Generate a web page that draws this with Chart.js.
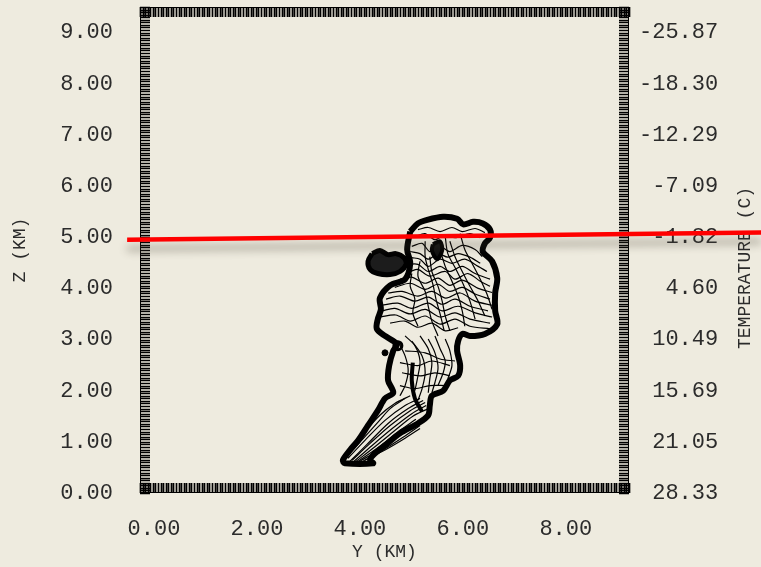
<!DOCTYPE html>
<html>
<head>
<meta charset="utf-8">
<script src="https://cdn.jsdelivr.net/npm/chart.js@4.4.1/dist/chart.umd.min.js"></script>
<style>
  html, body { margin: 0; padding: 0; background: #eeebdf; }
  canvas { display: block; }
</style>
</head>
<body>
<canvas id="chart" width="761" height="567"></canvas>
<script>
// tick labels
const yTicks = [0, 2, 4, 6, 8];
const zTicks = [0, 1, 2, 3, 4, 5, 6, 7, 8, 9];
const tempLabels = ['28.33', '21.05', '15.69', '10.49', '4.60', '-1.82', '-7.09', '-12.29', '-18.30', '-25.87'];
const axisMax = 9.5;
const minorStep = 0.05;

// red cut line, [Y km, Z km]
const cutLine = [[-0.25, 4.95], [12.07, 5.09]];

// outer edge of the cloud
const cloudEdge = [
  [5.25, 5.11], [5.40, 5.27], [5.58, 5.34], [5.89, 5.40], [6.16, 5.36], [6.28, 5.25], [6.47, 5.30],
  [6.66, 5.27], [6.80, 5.15], [6.80, 4.99], [6.70, 4.88], [6.66, 4.72], [6.84, 4.53], [6.94, 4.20],
  [6.90, 3.91], [6.90, 3.56], [6.94, 3.30], [6.70, 3.11], [6.41, 3.07], [6.26, 3.11], [6.18, 2.97],
  [6.16, 2.78], [6.22, 2.49], [6.18, 2.29], [6.02, 2.20], [5.89, 2.00], [5.67, 1.90], [5.63, 1.71],
  [5.60, 1.52], [5.40, 1.36], [5.05, 1.17], [4.76, 0.93], [4.53, 0.74], [4.47, 0.64], [4.53, 0.58],
  [3.98, 0.58], [3.94, 0.64], [4.08, 0.84], [4.24, 1.03], [4.43, 1.32], [4.62, 1.61], [4.76, 1.85],
  [4.92, 1.96], [4.82, 2.20], [4.84, 2.49], [4.92, 2.78], [4.99, 2.91], [4.76, 3.07], [4.60, 3.21],
  [4.62, 3.40], [4.68, 3.59], [4.66, 3.81], [4.86, 4.06], [5.15, 4.18], [5.25, 4.49], [5.19, 4.76],
  [5.25, 5.11]
];

// small separate cell on the left
const leftCell = [
  [4.51, 4.68], [4.66, 4.74], [4.82, 4.66], [4.97, 4.68], [5.13, 4.60], [5.17, 4.47], [5.05, 4.33],
  [4.86, 4.27], [4.62, 4.29], [4.47, 4.37], [4.43, 4.53], [4.51, 4.68]
];

const darkSpot = [[5.69, 4.86], [5.83, 4.92], [5.87, 4.74], [5.77, 4.57], [5.67, 4.74], [5.69, 4.86]];

// inner contours, upper part
const upperContours = [
  [[5.40, 5.15], [5.60, 5.19], [5.83, 5.11], [6.06, 5.19], [6.26, 5.11], [6.51, 5.17], [6.70, 5.09]],
  [[5.34, 5.01], [5.54, 5.07], [5.73, 4.95], [5.93, 5.05], [6.12, 4.99], [6.41, 5.07], [6.61, 4.99]],
  [[5.28, 4.82], [5.48, 4.88], [5.63, 4.72], [5.83, 4.82], [6.02, 4.72], [6.26, 4.84], [6.51, 4.76], [6.65, 4.62]],
  [[5.25, 4.72], [5.44, 4.68], [5.60, 4.57], [5.79, 4.68], [5.98, 4.61], [6.18, 4.68], [6.41, 4.61], [6.61, 4.49]],
  [[5.28, 4.60], [5.44, 4.57], [5.60, 4.43], [5.83, 4.57], [6.06, 4.49], [6.31, 4.57], [6.57, 4.43], [6.74, 4.33]],
  [[5.21, 4.47], [5.40, 4.47], [5.60, 4.33], [5.83, 4.43], [6.02, 4.33], [6.26, 4.43], [6.51, 4.29], [6.80, 4.18]],
  [[5.25, 4.33], [5.40, 4.37], [5.63, 4.24], [5.93, 4.33], [6.12, 4.18], [6.37, 4.29], [6.61, 4.14], [6.80, 4.04]],
  [[5.05, 4.18], [5.28, 4.22], [5.54, 4.10], [5.79, 4.20], [6.02, 4.06], [6.26, 4.16], [6.57, 4.00], [6.84, 3.92]],
  [[4.95, 4.02], [5.25, 4.10], [5.54, 3.98], [5.79, 4.08], [6.02, 3.94], [6.26, 4.02], [6.51, 3.89], [6.80, 3.79]],
  [[4.82, 3.91], [5.09, 3.94], [5.40, 3.85], [5.67, 3.94], [5.94, 3.81], [6.22, 3.91], [6.51, 3.75], [6.84, 3.67]],
  [[4.78, 3.79], [5.05, 3.85], [5.34, 3.75], [5.60, 3.83], [5.87, 3.69], [6.12, 3.79], [6.41, 3.65], [6.76, 3.56]],
  [[4.70, 3.67], [5.01, 3.71], [5.28, 3.61], [5.60, 3.71], [5.87, 3.56], [6.18, 3.65], [6.51, 3.52], [6.84, 3.44]],
  [[4.70, 3.56], [4.95, 3.61], [5.25, 3.50], [5.54, 3.59], [5.83, 3.44], [6.12, 3.52], [6.41, 3.40], [6.80, 3.32]],
  [[4.66, 3.44], [4.97, 3.48], [5.25, 3.36], [5.54, 3.46], [5.83, 3.30], [6.12, 3.40], [6.41, 3.26], [6.80, 3.21]],
  [[4.86, 3.32], [5.15, 3.36], [5.40, 3.24], [5.67, 3.32], [5.93, 3.17], [6.18, 3.23]],
  [[6.22, 5.07], [6.31, 4.76], [6.45, 4.49], [6.61, 4.18], [6.74, 3.89], [6.84, 3.59]],
  [[6.02, 4.92], [6.12, 4.62], [6.26, 4.33], [6.41, 4.04], [6.57, 3.75], [6.70, 3.46]],
  [[5.93, 5.01], [5.98, 4.68], [6.14, 4.37], [6.28, 4.08], [6.41, 3.75], [6.51, 3.40]],
  [[5.83, 4.76], [5.93, 4.43], [6.06, 4.14], [6.18, 3.85], [6.26, 3.56], [6.31, 3.26]],
  [[5.63, 4.62], [5.67, 4.33], [5.79, 4.04], [5.87, 3.75], [5.93, 3.46], [6.02, 3.17]],
  [[5.54, 4.92], [5.54, 4.62], [5.60, 4.37], [5.69, 4.08], [5.75, 3.79], [5.83, 3.50], [5.91, 3.17]],
  [[5.44, 4.53], [5.40, 4.24], [5.54, 3.94], [5.60, 3.65], [5.67, 3.36], [5.79, 3.07]],
  [[5.28, 4.29], [5.25, 4.04], [5.34, 3.79], [5.30, 3.52], [5.40, 3.26]]
];

// inner contours, stem
const stemContours = [
  [[5.01, 2.97], [5.15, 2.68], [5.21, 2.39], [5.15, 2.10], [5.05, 1.90]],
  [[5.15, 3.07], [5.34, 2.88], [5.44, 2.58], [5.40, 2.29], [5.34, 2.00]],
  [[5.28, 2.97], [5.48, 2.68], [5.54, 2.35], [5.48, 2.04], [5.40, 1.81]],
  [[5.44, 3.07], [5.60, 2.82], [5.67, 2.55], [5.63, 2.23], [5.60, 1.96]],
  [[5.60, 3.01], [5.73, 2.74], [5.79, 2.45], [5.73, 2.16], [5.67, 1.96]],
  [[5.73, 3.07], [5.83, 2.82], [5.93, 2.58], [5.89, 2.35], [5.79, 2.10]],
  [[5.93, 3.01], [6.02, 2.78], [6.06, 2.49], [5.98, 2.23]],
  [[5.15, 2.78], [5.54, 2.74], [5.83, 2.62], [6.12, 2.58]],
  [[5.05, 2.55], [5.40, 2.49], [5.67, 2.58], [6.02, 2.49]],
  [[5.09, 2.35], [5.44, 2.29], [5.73, 2.35], [6.02, 2.29]],
  [[5.05, 2.10], [5.34, 2.04], [5.63, 2.10], [5.93, 2.10]]
];
const stemStreak = [[5.30, 2.55], [5.28, 2.20], [5.34, 1.85], [5.48, 1.59]];

// inner contours, lower cone
const coneContours = [
  [[3.96, 0.64], [4.27, 0.99], [4.62, 1.38], [4.86, 1.65], [5.15, 1.85]],
  [[4.00, 0.74], [4.31, 1.13], [4.66, 1.52], [4.95, 1.75], [5.25, 1.90]],
  [[4.04, 0.68], [4.37, 1.03], [4.76, 1.42], [5.15, 1.71], [5.44, 1.85]],
  [[4.08, 0.62], [4.41, 0.95], [4.82, 1.36], [5.21, 1.65], [5.50, 1.81]],
  [[4.12, 0.64], [4.47, 0.97], [4.86, 1.32], [5.25, 1.61], [5.54, 1.77]],
  [[4.16, 0.62], [4.51, 0.93], [4.90, 1.26], [5.28, 1.55], [5.56, 1.71]],
  [[4.20, 0.62], [4.57, 0.91], [4.95, 1.22], [5.30, 1.50], [5.60, 1.65]],
  [[4.24, 0.62], [4.60, 0.87], [5.01, 1.19], [5.36, 1.44]],
  [[4.27, 0.62], [4.66, 0.85], [5.05, 1.13], [5.40, 1.38]],
  [[4.33, 0.62], [4.72, 0.84], [5.11, 1.09], [5.44, 1.32]],
  [[4.37, 0.64], [4.76, 0.84], [5.15, 1.07], [5.44, 1.26]]
];

const specks = [[4.76, 2.74]];
const rings = [[5.01, 2.88]];

const ink = '#2b2b2b';
const fontName = 'Liberation Mono';
const monoFont = { family: fontName, size: 22 };
const titleFont = { family: fontName, size: 18 };

function curve(points, width, extra) {
  return Object.assign({
    data: points.map(p => ({ x: p[0], y: p[1] })),
    showLine: true,
    borderColor: '#000',
    borderWidth: width,
    pointRadius: 0,
    tension: 0.3,
    fill: false
  }, extra || {});
}

const datasets = [
  curve(cutLine, 4.5, { borderColor: '#ff0000', tension: 0, clip: false }),
  curve(cloudEdge, 6),
  curve(leftCell, 5, { fill: 'shape', backgroundColor: '#1c1c1c' }),
  curve(darkSpot, 4, { fill: 'shape', backgroundColor: '#111' }),
  curve(stemStreak, 4),
  ...upperContours.map(c => curve(c, 1.2)),
  ...stemContours.map(c => curve(c, 1.2)),
  ...coneContours.map(c => curve(c, 1.2)),
  { data: specks.map(p => ({ x: p[0], y: p[1] })), pointRadius: 3, backgroundColor: '#000', borderColor: '#000' },
  { data: rings.map(p => ({ x: p[0], y: p[1] })), pointRadius: 4, borderWidth: 3, backgroundColor: 'rgba(0,0,0,0)', borderColor: '#000' }
];

// dense inward ticks round the frame, plus the right axis title
const frameTicks = {
  id: 'frameTicks',
  beforeDatasetsDraw(chart) {
    const { ctx, chartArea: a, scales: { x, y } } = chart;
    const len = 10;
    const n = Math.round(axisMax / minorStep);
    ctx.save();
    ctx.strokeStyle = '#000';
    ctx.lineWidth = 1.7;
    ctx.beginPath();
    for (let i = 0; i <= n; i++) {
      const v = i * minorStep;
      const px = Math.round(x.getPixelForValue(v)) + 0.5;
      ctx.moveTo(px, a.top); ctx.lineTo(px, a.top + len);
      ctx.moveTo(px, a.bottom - len); ctx.lineTo(px, a.bottom);
      const py = Math.round(y.getPixelForValue(v)) + 0.5;
      ctx.moveTo(a.left, py); ctx.lineTo(a.left + len, py);
      ctx.moveTo(a.right - len, py); ctx.lineTo(a.right, py);
    }
    ctx.stroke();
    ctx.lineWidth = 1;
    ctx.strokeRect(a.left + 0.5, a.top + 0.5, a.width - 1, a.height - 1);

    ctx.translate(745, 268);
    ctx.rotate(-Math.PI / 2);
    ctx.font = '18px "' + fontName + '"';
    ctx.fillStyle = ink;
    ctx.textAlign = 'center';
    ctx.textBaseline = 'middle';
    ctx.fillText('TEMPERATURE (C)', 0, 0);
    ctx.restore();
  }
};

// soft shadow under the red line
const cutShadow = {
  id: 'cutShadow',
  beforeDatasetDraw(chart, args) {
    if (args.index !== 0) return;
    const ctx = chart.ctx;
    ctx.save();
    ctx.shadowColor = 'rgba(70, 65, 50, 0.45)';
    ctx.shadowBlur = 8;
    ctx.shadowOffsetY = 9;
  },
  afterDatasetDraw(chart, args) {
    if (args.index === 0) chart.ctx.restore();
  }
};

new Chart(document.getElementById('chart'), {
  type: 'scatter',
  data: { datasets },
  options: {
    responsive: false,
    animation: false,
    layout: { padding: { top: 3, left: 0, right: 0, bottom: 0 } },
    plugins: { legend: { display: false }, tooltip: { enabled: false } },
    scales: {
      x: {
        type: 'linear', position: 'bottom', min: 0, max: axisMax,
        afterBuildTicks: s => { s.ticks = yTicks.map(v => ({ value: v })); },
        afterFit: s => { s.height = 74; s.paddingLeft = 0; s.paddingRight = 0; },
        grid: { display: false }, border: { display: false },
        ticks: { font: monoFont, color: ink, padding: 15, labelOffset: 14, maxRotation: 0, autoSkip: false,
                 callback: v => v.toFixed(2) },
        title: { display: true, text: 'Y (KM)', font: titleFont, color: ink, padding: { top: 0, bottom: 4 } }
      },
      y: {
        type: 'linear', position: 'left', min: 0, max: axisMax,
        afterBuildTicks: s => { s.ticks = zTicks.map(v => ({ value: v })); },
        afterFit: s => { s.width = 140; s.paddingTop = 0; s.paddingBottom = 0; },
        grid: { display: false }, border: { display: false },
        ticks: { font: monoFont, color: ink, padding: 19, autoSkip: false, callback: v => v.toFixed(2) },
        title: { display: true, text: 'Z (KM)', font: titleFont, color: ink, padding: { top: 9, bottom: 0 } }
      },
      t: {
        type: 'linear', position: 'right', min: 0, max: axisMax,
        afterBuildTicks: s => { s.ticks = zTicks.map(v => ({ value: v })); },
        afterFit: s => { s.width = 132; s.paddingTop = 0; s.paddingBottom = 0; },
        grid: { display: false }, border: { display: false },
        ticks: { font: monoFont, color: ink, padding: 2, autoSkip: false,
                 callback: v => tempLabels[zTicks.indexOf(v)].padStart(6, ' ') }
      }
    }
  },
  plugins: [frameTicks, cutShadow]
});
</script>
</body>
</html>
